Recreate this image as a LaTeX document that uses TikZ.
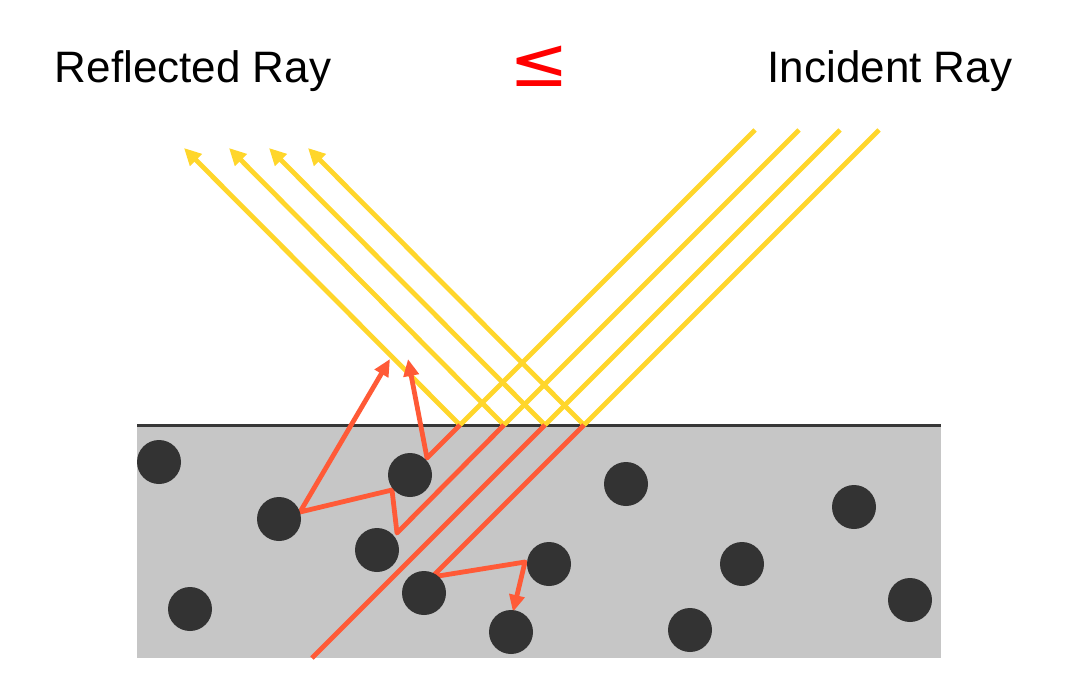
\documentclass[tikz,border=0pt]{standalone}
\usepackage{fontspec}
\setmainfont{Liberation Sans}
\newfontfamily\symfont{DejaVu Sans}
\usetikzlibrary{arrows.meta}
\definecolor{raycol}{RGB}{255,214,43}
\definecolor{scatcol}{RGB}{255,90,55}
\definecolor{mediumcol}{RGB}{198,198,198}
\definecolor{dotcol}{RGB}{51,51,51}
\definecolor{surfcol}{RGB}{55,55,55}
\tikzset{
  particle/.style={circle,fill=dotcol,minimum size=44pt,inner sep=0pt},
  yray/.style={draw=raycol,line width=4.8pt},
  yarrow/.style={yray,-{Triangle[length=17pt,width=16pt]}},
  rray/.style={draw=scatcol,line width=4.8pt,line join=round},
  rarrow/.style={rray,-{Triangle[length=17pt,width=15pt]}},
  titletext/.style={font=\fontsize{44}{50}\selectfont,inner sep=0pt,anchor=base},
  relsign/.style={font=\symfont\fontsize{57}{62}\selectfont,text=red,inner sep=0pt},
}
\begin{document}
\begin{tikzpicture}[x=1pt,y=-1pt]
\useasboundingbox (0,0) rectangle (1080,689);
% titles
\node[titletext] (reflabel) at (193,82) {Reflected Ray};
\node[titletext] (inclabel) at (890,82) {Incident Ray};
\node[relsign] (rel) at (539,66) {\scalebox{1.25}[1.22]{≤}};
% medium
\fill[mediumcol] (137,425) rectangle (941,658);
\coordinate (sl) at (137,425);
\coordinate (sr) at (941,425);
% reflection points
\coordinate (p1) at (460,425);
\coordinate (p2) at (504,425);
\coordinate (p3) at (545,425);
\coordinate (p4) at (584,425);
% incident sources
\coordinate (s1) at (755,130);
\coordinate (s2) at (799,130);
\coordinate (s3) at (840,130);
\coordinate (s4) at (879,130);
% reflected tips
\coordinate (t1) at (184,148);
\coordinate (t2) at (229,148);
\coordinate (t3) at (269,148);
\coordinate (t4) at (308,148);
% scattering points
\coordinate (e1) at (427,458);
\coordinate (b1) at (397,533);
\coordinate (b2) at (392,490);
\coordinate (b3) at (300,512);
\coordinate (a1) at (390,359);
\coordinate (a2) at (408,359);
\coordinate (q3) at (312,658);
\coordinate (c1) at (432,577);
\coordinate (c2) at (525,562);
\coordinate (c3) at (513,612);
% surface
\draw[surfcol,line width=3pt] (sl) -- (sr);
% incident and reflected rays
\foreach \i in {1,...,4}{
  \draw[yray] (s\i) -- (p\i);
  \draw[yarrow] (p\i) -- (t\i);
}
% rays inside the medium
\draw[rray] (p3) -- (q3);
\draw[rarrow] (p1) -- (e1) -- (a2);
\draw[rarrow] (p2) -- (b1) -- (b2) -- (b3) -- (a1);
\draw[rarrow] (p4) -- (c1) -- (c2) -- (c3);
% particles
\node[particle] (n1) at (159,462) {};
\node[particle] (n2) at (279,519) {};
\node[particle] (n3) at (410,475) {};
\node[particle] (n4) at (377,550) {};
\node[particle] (n5) at (190,609) {};
\node[particle] (n6) at (424,593) {};
\node[particle] (n7) at (549,564) {};
\node[particle] (n8) at (511,632) {};
\node[particle] (n9) at (626,484) {};
\node[particle] (n10) at (742,564) {};
\node[particle] (n11) at (854,507) {};
\node[particle] (n12) at (910,600) {};
\node[particle] (n13) at (690,630) {};
\end{tikzpicture}
\end{document}
